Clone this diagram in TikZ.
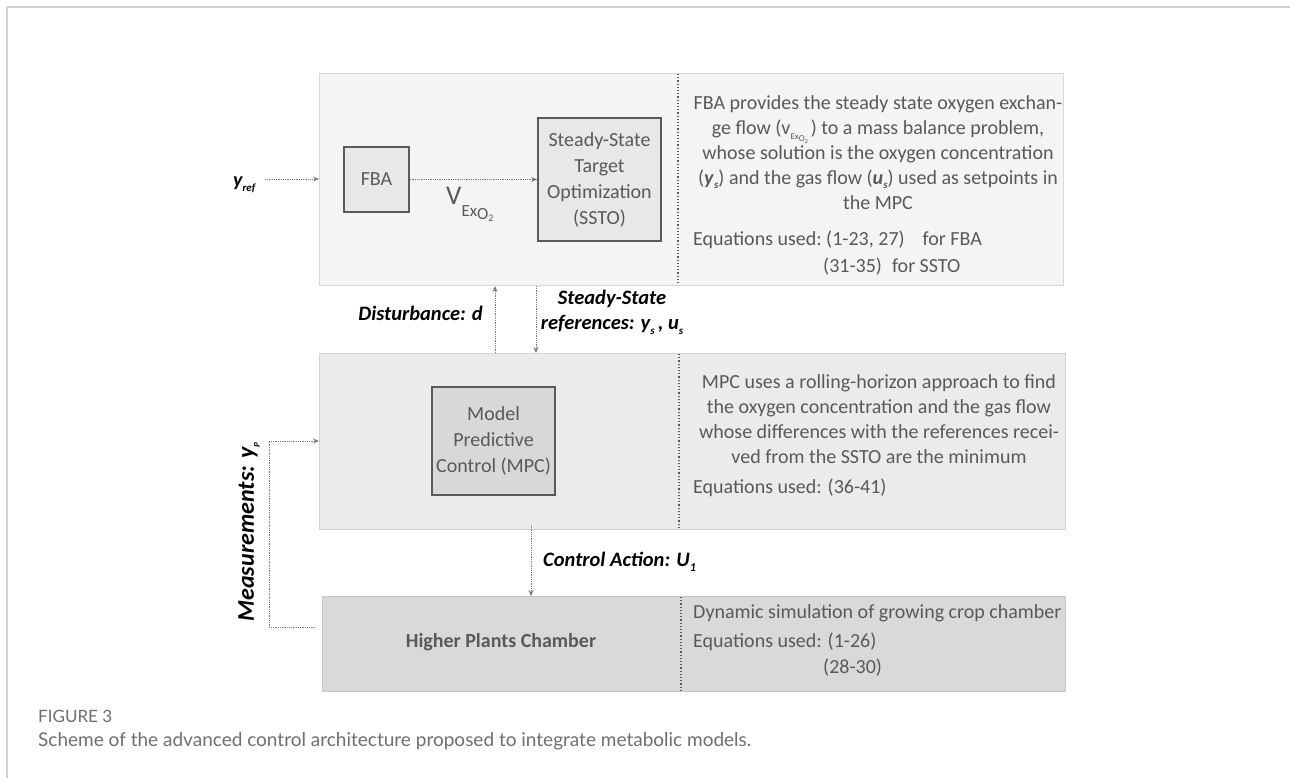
\documentclass[tikz,border=0pt]{standalone}
\usepackage{fontspec}
\setmainfont{Carlito}
\newfontfamily\capfont{Lato}
\usetikzlibrary{arrows.meta}
\definecolor{txtgray}{HTML}{595959}
\definecolor{framegray}{HTML}{D2D2D2}
\definecolor{topfill}{HTML}{F4F4F4}
\definecolor{topdraw}{HTML}{D8D8D8}
\definecolor{midfill}{HTML}{EBEBEB}
\definecolor{middraw}{HTML}{D4D4D4}
\definecolor{botfill}{HTML}{D9D9D9}
\definecolor{botdraw}{HTML}{C6C6C6}
\definecolor{inbox}{HTML}{E8E8E8}
\definecolor{inboxdark}{HTML}{D8D8D8}
\definecolor{inborder}{HTML}{5A5A5A}
\definecolor{arrgray}{HTML}{7A7A7A}
\definecolor{capgray}{HTML}{6E6E6E}
\newcommand\myvex{\raisebox{-5pt}{\fontsize{9}{9}\selectfont Ex\raisebox{-2pt}{O\raisebox{-2pt}{\fontsize{6}{6}\selectfont 2}}}\hspace{3pt}}
\newcommand\bi[1]{\textbf{\textit{#1}}}
\begin{document}
\begin{tikzpicture}[x=1pt,y=-1pt,
  blk/.style={anchor=north west, inner sep=0pt, line width=1pt},
  inbx/.style={draw=inborder, line width=1.5pt, inner sep=0pt, align=center,
    text=txtgray, font=\fontsize{20}{26}\selectfont},
  txt/.style={text=txtgray, inner sep=0pt, font=\fontsize{20}{25}\selectfont},
  lbl/.style={text=black, inner sep=0pt, font=\fontsize{20.5}{25}\selectfont\bfseries\itshape},
  divl/.style={dotted, line width=1.2pt, draw=txtgray},
  arr/.style={densely dotted, line width=0.8pt, draw=arrgray,
    -{Stealth[length=6pt,width=5pt,inset=2pt]}, shorten >=0pt}
]
\useasboundingbox (0,0) rectangle (1290,778);
% frame
\draw[framegray, line width=2pt] (7,778) -- (7,7.5) -- (1290,7.5);

% blocks
\node[blk, fill=topfill, draw=topdraw, minimum width=744pt, minimum height=212pt] (top) at (319,73) {};
\node[blk, fill=midfill, draw=middraw, minimum width=746pt, minimum height=176pt] (mid) at (319,353) {};
\node[blk, fill=botfill, draw=botdraw, minimum width=743pt, minimum height=95pt] (bot) at (322,596) {};

% dividers
\draw[divl] (678,74) -- (678,284);
\draw[divl] (679,354) -- (679,528);
\draw[divl] (681,597) -- (681,690);

% inner boxes
\node[inbx, fill=inbox, minimum width=65pt, minimum height=65pt] (fba) at (376.5,179.5) {FBA};
\node[inbx, fill=inbox, minimum width=123pt, minimum height=123pt] (ssto) at (599.5,179.5) {Steady-State\\Target\\Optimization\\(SSTO)};
\node[inbx, fill=inboxdark, minimum width=123pt, minimum height=108pt] (mpc) at (493.5,441) {Model\\Predictive\\Control (MPC)};

% V_ExO2 label
\node[anchor=base west, inner sep=0pt, text=txtgray] (vex) at (446,205)
  {{\fontsize{27}{27}\selectfont V}\raisebox{-11pt}{\fontsize{17}{17}\selectfont Ex\raisebox{-3pt}{O\raisebox{-3pt}{\fontsize{10}{10}\selectfont 2}}}};

% top right text
\node[txt, align=center] (toptxt) at (878,153) {FBA provides the steady state oxygen exchan-\\
ge flow (v\myvex) to a mass balance problem,\\
whose solution is the oxygen concentration\\
(\bi{y}\raisebox{-4pt}{\fontsize{11}{11}\selectfont\bi{s}}) and the gas flow (\bi{u}\raisebox{-4pt}{\fontsize{11}{11}\selectfont\bi{s}}) used as setpoints in\\
the MPC};
\node[txt, anchor=west] (topeq1) at (693,240) {Equations used:~(1-23, 27)\hspace{18pt}for FBA};
\node[txt, anchor=west] (topeq2) at (823,267) {(31-35)\hspace{10pt}for SSTO};

% middle right text
\node[txt, align=center] (midtxt) at (879,419) {MPC uses a rolling-horizon approach to find\\
the oxygen concentration and the gas flow\\
whose differences with the references recei-\\
ved from the SSTO are the minimum};
\node[txt, anchor=west] (mideq) at (693,488) {Equations used: (36-41)};

% bottom texts
\node[txt, font=\fontsize{20}{25}\selectfont\bfseries] (hpc) at (501,642) {Higher Plants Chamber};
\node[txt, anchor=west] (bot1) at (693,613) {Dynamic simulation of growing crop chamber};
\node[txt, anchor=west] (bot2) at (693,642) {Equations used: (1-26)};
\node[txt, anchor=west] (bot3) at (823,668) {(28-30)};

% coordinates
\coordinate (yr) at (265,179);
\coordinate (dx) at (495,0);
\coordinate (sx) at (536,0);
\coordinate (cx) at (531,0);
\coordinate (ms) at (315,627);
\coordinate (ml) at (269,627);
\coordinate (mt) at (269,441);

% arrows
\draw[arr] (yr) -- (top.west |- yr);
\draw[arr] (fba.east) -- (ssto.west);
\draw[arr] (mid.north -| dx) -- (top.south -| dx);
\draw[arr] (top.south -| sx) -- (mid.north -| sx);
\draw[arr] ([yshift=5pt]mid.south -| cx) -- (bot.north -| cx);
\draw[arr] (ms) -- (ml) -- (mt) -- (mid.west |- mt);

% labels
\node[lbl, anchor=base west, font=\fontsize{20}{20}\selectfont\bfseries\itshape] (yref) at (233,187) {y\raisebox{-5pt}{\fontsize{11}{11}\selectfont ref}};
\node[lbl, anchor=east] (dist) at (483,313) {Disturbance: d};
\node[lbl, align=center] (ssr) at (612,312) {Steady-State\\references: y\raisebox{-5pt}{\fontsize{11}{11}\selectfont s}\,, u\raisebox{-5pt}{\fontsize{11}{11}\selectfont s}};
\node[lbl, anchor=west] (ca) at (543,562) {Control Action: U\raisebox{-5pt}{\fontsize{12}{12}\selectfont 1}};
\node[lbl, rotate=90, font=\fontsize{24}{24}\selectfont\bfseries\itshape] (meas) at (249,532) {Measurements: y\raisebox{-6pt}{\fontsize{9}{9}\selectfont P}};

% caption
\node[anchor=west, inner sep=0pt, text=capgray, font=\capfont\fontsize{17}{17}\selectfont] (fig) at (38,716) {FIGURE 3};
\node[anchor=west, inner sep=0pt, text=capgray, font=\capfont\fontsize{19}{19}\selectfont] (cap) at (38,741) {Scheme of the advanced control architecture proposed to integrate metabolic models.};
\end{tikzpicture}
\end{document}
